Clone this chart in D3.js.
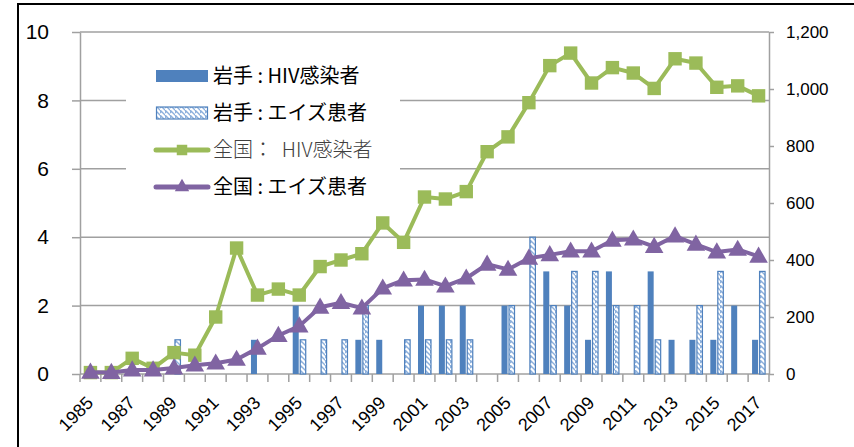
<!DOCTYPE html>
<html>
<head>
<meta charset="utf-8">
<script src="https://cdn.jsdelivr.net/npm/d3@7"></script>
<style>
  body { margin: 0; background: #fff; }
  svg { display: block; }
</style>
</head>
<body>
<svg id="chart" width="854" height="447"></svg>
<script>
const years = d3.range(1985, 2018);
// 岩手 (left axis)
const iwateHIV  = [0,0,0,0,0,0,0,0,1,0,2,0,0,1,1,0,2,2,2,0,2,0,3,2,1,3,0,3,1,1,1,2,1];
const iwateAIDS = [0,0,0,0,1,0,0,0,0,0,1,1,1,2,0,1,1,1,1,0,2,4,2,3,3,2,2,1,0,2,3,0,3];
// 全国 (right axis)
const nationalHIV  = [5,5,55,20,75,66,200,442,277,298,277,377,400,422,530,462,621,614,640,780,832,952,1082,1126,1021,1075,1056,1002,1106,1091,1006,1011,976];
const nationalAIDS = [6,5,14,14,21,31,38,51,90,135,168,234,250,231,301,329,332,308,336,385,367,406,418,431,431,469,473,447,484,455,428,437,413];
const leftTicks = [0, 2, 4, 6, 8, 10];
const rightTicks = [0, 200, 400, 600, 800, 1000, 1200];
const legendLabels = ["岩手 : HIV感染者", "岩手 : エイズ患者", "全国：  HIV感染者", "全国 : エイズ患者"];

const blue = "#4F81BD", green = "#9BBB59", purple = "#8064A2", grid = "#a0a0a0";
const svg = d3.select("#chart");
const plotL = 80, plotR = 769, plotT = 32, plotB = 374;

// frame
svg.append("rect").attr("x", 18).attr("y", 4).attr("width", 900).attr("height", 500)
  .attr("fill", "none").attr("stroke", "#000").attr("stroke-width", 2);

const defs = svg.append("defs");
const pat = defs.append("pattern").attr("id", "hatch").attr("patternUnits", "userSpaceOnUse")
  .attr("width", 5).attr("height", 5);
pat.append("rect").attr("width", 5).attr("height", 5).attr("fill", "#fff");
pat.append("path").attr("d", "M-1,1 l2,2 M0,0 l5,5 M4,-1 l2,2")
  .attr("stroke", "#8db0dc").attr("stroke-width", 1.4);

const x = d3.scaleBand().domain(years).range([plotL, plotR]).padding(0);
const yL = d3.scaleLinear().domain([0, 10]).range([plotB, plotT]);
const yR = d3.scaleLinear().domain([0, 1200]).range([plotB, plotT]);

// gridlines
svg.append("g").selectAll("line").data(leftTicks.filter(d => d > 0)).enter().append("line")
  .attr("x1", plotL).attr("x2", plotR).attr("y1", d => yL(d)).attr("y2", d => yL(d))
  .attr("stroke", grid).attr("stroke-width", 1.5);

// left axis
const gl = svg.append("g").attr("transform", `translate(${plotL},0)`)
  .call(d3.axisLeft(yL).tickValues(leftTicks).tickSize(8).tickPadding(23).tickSizeOuter(0));
gl.selectAll("text").attr("font-size", 21).attr("font-family", "Liberation Sans, Arial, sans-serif").attr("fill", "#000");

// right axis
const gr = svg.append("g").attr("transform", `translate(${plotR},0)`)
  .call(d3.axisRight(yR).tickValues(rightTicks).tickSize(5).tickPadding(12).tickSizeOuter(0)
    .tickFormat(d3.format(",")));
gr.selectAll("text").attr("font-size", 17).attr("font-family", "Liberation Sans, Arial, sans-serif").attr("fill", "#000");

// bottom axis
const gb = svg.append("g").attr("transform", `translate(0,${plotB})`);
gb.append("line").attr("x1", plotL).attr("x2", plotR);
gb.selectAll("line.t").data(d3.range(years.length + 1)).enter().append("line").attr("class", "t")
  .attr("x1", i => plotL + i * x.bandwidth()).attr("x2", i => plotL + i * x.bandwidth())
  .attr("y1", 0).attr("y2", 8);
gb.selectAll("text").data(years.filter((d, i) => i % 2 === 0)).enter().append("text")
  .attr("transform", d => `translate(${x(d) + x.bandwidth() / 2 + 4},30) rotate(-45)`)
  .attr("text-anchor", "end").attr("font-size", 18)
  .attr("font-family", "Liberation Sans, Arial, sans-serif").text(d => d);

[gl, gr].forEach(g => g.selectAll("line,path").attr("stroke", grid).attr("stroke-width", 1.5));
gb.selectAll("line").attr("stroke", grid).attr("stroke-width", 1.5);

// bars
const cx = d => x(d) + x.bandwidth() / 2;
svg.append("g").selectAll("rect").data(years).enter().append("rect")
  .filter((d, i) => iwateHIV[i] > 0)
  .attr("x", d => cx(d) - 6.5).attr("width", 6)
  .attr("y", (d) => yL(iwateHIV[years.indexOf(d)]))
  .attr("height", d => plotB - yL(iwateHIV[years.indexOf(d)]))
  .attr("fill", blue);
svg.append("g").selectAll("rect").data(years).enter().append("rect")
  .filter((d, i) => iwateAIDS[i] > 0)
  .attr("x", d => cx(d) + 1).attr("width", 5.5)
  .attr("y", d => yL(iwateAIDS[years.indexOf(d)]))
  .attr("height", d => plotB - yL(iwateAIDS[years.indexOf(d)]))
  .attr("fill", "url(#hatch)").attr("stroke", blue).attr("stroke-width", 1.2);

// lines
function drawSeries(vals, color, shape) {
  const line = d3.line().x((d, i) => cx(years[i])).y(d => yR(d));
  svg.append("path").datum(vals).attr("d", line).attr("fill", "none")
    .attr("stroke", color).attr("stroke-width", 4).attr("stroke-linejoin", "round");
  svg.append("g").selectAll("path").data(vals).enter().append("path")
    .attr("transform", (d, i) => `translate(${cx(years[i])},${yR(d) + (shape === d3.symbolTriangle ? 1 : 0)})`)
    .attr("d", d3.symbol().type(shape).size(shape === d3.symbolTriangle ? 150 : 180))
    .attr("fill", color);
}
drawSeries(nationalHIV, green, d3.symbolSquare);
drawSeries(nationalAIDS, purple, d3.symbolTriangle);

// legend
const lg = svg.append("g");
lg.append("rect").attr("x", 126).attr("y", 50).attr("width", 274).attr("height", 155).attr("fill", "#fff");
const rowY = [76, 113, 150, 187];
lg.append("rect").attr("x", 156).attr("y", rowY[0] - 6).attr("width", 52).attr("height", 12).attr("fill", blue);
lg.append("rect").attr("x", 156.5).attr("y", rowY[1] - 6).attr("width", 51).attr("height", 12)
  .attr("fill", "url(#hatch)").attr("stroke", blue).attr("stroke-width", 1.2);
[[green, d3.symbolSquare, 2], [purple, d3.symbolTriangle, 3]].forEach(([c, s, r]) => {
  lg.append("line").attr("x1", 156).attr("x2", 208).attr("y1", rowY[r]).attr("y2", rowY[r])
    .attr("stroke", c).attr("stroke-width", 5).attr("stroke-linecap", "round");
  lg.append("path").attr("transform", `translate(182,${rowY[r]})`)
    .attr("d", d3.symbol().type(s).size(s === d3.symbolTriangle ? 90 : 110)).attr("fill", c);
});
lg.selectAll("text").data(legendLabels).enter().append("text")
  .attr("x", 213).attr("y", (d, i) => rowY[i]).attr("dy", "0.36em")
  .attr("font-size", 20).attr("font-family", "Noto Sans CJK JP, sans-serif")
  .attr("fill", (d, i) => i === 2 ? "#404040" : "#000")
  .attr("font-weight", (d, i) => i === 2 ? 300 : 400)
  .attr("xml:space", "preserve").style("white-space", "pre")
  .text(d => d);
</script>
</body>
</html>
